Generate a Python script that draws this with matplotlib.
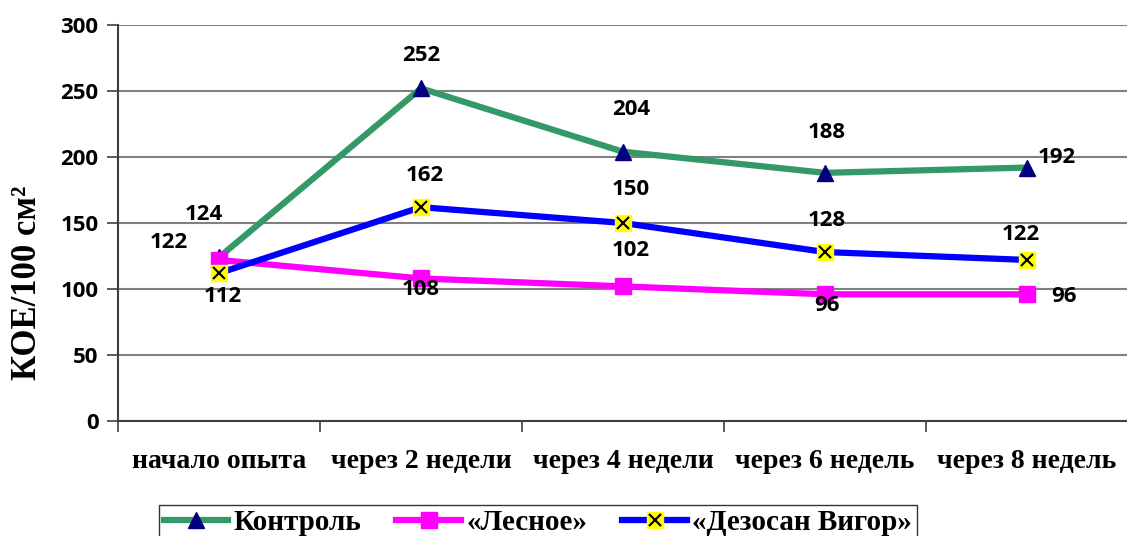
import matplotlib.pyplot as plt
import numpy as np

# periods of the experiment and colony counts per 100 cm2
periods = ["начало опыта", "через 2 недели", "через 4 недели", "через 6 недель", "через 8 недель"]
kontrol = [124, 252, 204, 188, 192]
lesnoe = [122, 108, 102, 96, 96]
dezosan = [112, 162, 150, 128, 122]

# label offsets in pixels for each value
kontrol_off = [(-15, 43), (0, 33), (8, 42), (2, 40), (30, 10)]
lesnoe_off = [(-50, 17), (0, -11), (8, 36), (2, -11), (37, -2)]
dezosan_off = [(4, -23), (4, 32), (8, 33), (2, 32), (-6, 25)]

serif = "Liberation Serif"
sans = "Open Sans"

fig = plt.figure(figsize=(11.27, 5.36), dpi=100)
ax = fig.add_axes([118 / 1127, 1 - 421 / 536, 1010 / 1127, 396 / 536])

x = np.arange(len(periods))

ax.plot(x, kontrol, color="#339966", lw=4.5, marker="^", ms=11,
        mfc="#000080", mec="#000080", zorder=3)
ax.plot(x, lesnoe, color="#FF00FF", lw=4.5, marker="s", ms=11,
        mfc="#FF00FF", mec="#FF00FF", zorder=3)
ax.plot(x, dezosan, color="#0000FF", lw=4.5, marker="s", ms=11,
        mfc="#FFFF00", mec="#FFFF00", zorder=4)
ax.plot(x, dezosan, ls="none", marker="x", ms=9, mew=1.5, color="black", zorder=5)

for vals, offs in [(kontrol, kontrol_off), (lesnoe, lesnoe_off), (dezosan, dezosan_off)]:
    for xi, v, (dx, dy) in zip(x, vals, offs):
        ax.annotate(str(v), (xi, v), xytext=(dx, dy), textcoords="offset pixels",
                    ha="center", va="center", fontsize=16, fontweight="bold",
                    family=sans, zorder=6)

ax.set_xlim(-0.5, len(periods) - 0.5)
ax.set_ylim(0, 300)
ax.set_yticks(range(0, 301, 50))
ax.set_xticks(np.arange(len(periods) + 1) - 0.5)
ax.set_xticklabels([])
ax.set_xticks(x, minor=True)
ax.set_xticklabels(periods, minor=True, family=serif, fontweight="bold", fontsize=20)
ax.tick_params(axis="x", which="minor", length=0, pad=20)
ax.tick_params(axis="x", which="major", length=8, width=1.2, color="#404040")
ax.tick_params(axis="y", length=8, width=1.2, color="#404040", pad=6)
for lbl in ax.get_yticklabels():
    lbl.set_family(sans)
    lbl.set_fontweight("bold")
    lbl.set_fontsize(16)

ax.grid(axis="y", color="#808080", lw=1.5)
ax.set_axisbelow(True)
for side in ["top", "right"]:
    ax.spines[side].set_visible(False)
for side in ["left", "bottom"]:
    ax.spines[side].set_color("#404040")
    ax.spines[side].set_linewidth(1.5)

ax.set_ylabel("КОЕ/100 см²", family=serif, fontweight="bold", fontsize=25)
ax.yaxis.set_label_coords(-0.073, 0.35)

h1, = ax.plot([], [], color="#339966", lw=4.5, marker="^", ms=11, mfc="#000080", mec="#000080")
h2, = ax.plot([], [], color="#FF00FF", lw=4.5, marker="s", ms=11, mfc="#FF00FF", mec="#FF00FF")
h3a, = ax.plot([], [], color="#0000FF", lw=4.5, marker="s", ms=11, mfc="#FFFF00", mec="#FFFF00")
h3b, = ax.plot([], [], ls="none", marker="x", ms=9, mew=1.5, color="black")
leg = fig.legend([h1, h2, (h3a, h3b)], ["Контроль", "«Лесное»", "«Дезосан Вигор»"],
                 loc="upper center", bbox_to_anchor=(538 / 1127, 1 - 505 / 536), ncol=3,
                 prop={"family": serif, "weight": "bold", "size": 21},
                 frameon=True, fancybox=False, edgecolor="black", handlelength=2.2,
                 columnspacing=1.2, handletextpad=0.2, borderpad=0.15, borderaxespad=0)
leg.get_frame().set_linewidth(1.0)

fig.savefig("out.png", dpi=100)
